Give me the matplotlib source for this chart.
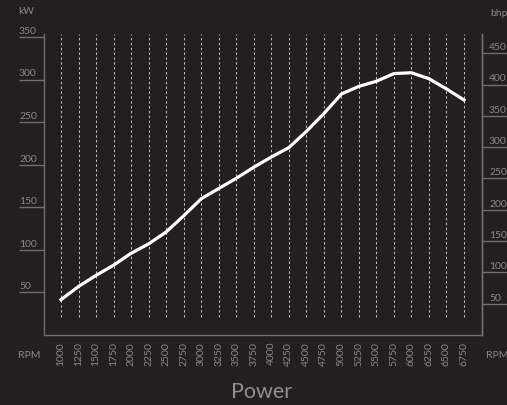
import matplotlib
matplotlib.use('Agg')
import matplotlib.pyplot as plt
import matplotlib.transforms as mtransforms

# Data
rpm = [1000, 1250, 1500, 1750, 2000, 2250, 2500, 2750, 3000, 3250, 3500, 3750,
       4000, 4250, 4500, 4750, 5000, 5250, 5500, 5750, 6000, 6250, 6500, 6750]
power_kw = [41.5, 57, 70, 82, 96, 107, 121, 140, 160, 172, 184, 197,
            209, 220, 239, 260, 283, 292, 298, 307, 308, 301, 289, 276]
kw_ticks = [50, 100, 150, 200, 250, 300, 350]
bhp_ticks = [50, 100, 150, 200, 250, 300, 350, 400, 450]
kw_to_bhp = 1.36

bg = '#231f20'
axis_col = '#6e6e6e'
text_col = '#8a8a8a'
plt.rcParams['font.family'] = ['Lato', 'DejaVu Sans']

fig = plt.figure(figsize=(5.07, 4.06), dpi=100, facecolor=bg)
ax = fig.add_axes([44 / 507, 1 - 336 / 406, 438 / 507, 301 / 406])
ax.set_facecolor(bg)

ymax = 353.5
ax.set_xlim(757, 7007)
ax.set_ylim(0, ymax)

# dashed verticals at every rpm step
ax.vlines(rpm, 21, ymax, colors='#c8c8c8', linewidth=0.7, linestyles=(0, (2.5, 2.5)))

# the power curve
ax.plot(rpm, power_kw, color='white', linewidth=2.3, solid_joinstyle='miter')

ax.spines['top'].set_visible(False)
for s in ['left', 'right', 'bottom']:
    ax.spines[s].set_color(axis_col)
    ax.spines[s].set_linewidth(1.0)

# left kW ticks
ax.set_yticks(kw_ticks)
ax.set_yticklabels([])
ax.tick_params(axis='y', which='major', length=18, width=1.0, color=axis_col, direction='out')
ax.set_xticks([])

# right bhp ticks
ax2 = ax.twinx()
ax2.set_ylim(0, ymax * kw_to_bhp)
ax2.set_yticks(bhp_ticks)
ax2.set_yticklabels([])
ax2.tick_params(axis='y', length=18, width=1.0, color=axis_col, direction='out')
for s in ['top', 'left', 'bottom']:
    ax2.spines[s].set_visible(False)
ax2.spines['right'].set_color(axis_col)
ax2.spines['right'].set_linewidth(1.0)

# tick labels drawn above the tick lines
lt = mtransforms.blended_transform_factory(fig.transFigure, ax.transData)
for v in kw_ticks:
    ax.text(19 / 507, v + 2.5, str(v), transform=lt, ha='left', va='bottom',
            fontsize=7.5, color=text_col)
rt = mtransforms.blended_transform_factory(fig.transFigure, ax2.transData)
for v in bhp_ticks:
    ax2.text(489 / 507, v + 3.4, str(v), transform=rt, ha='left', va='bottom',
             fontsize=7.5, color=text_col)

# rotated rpm labels
bt = mtransforms.blended_transform_factory(ax.transData, fig.transFigure)
for r in rpm:
    ax.text(r, 1 - 342 / 406, str(r), transform=bt, rotation=90, ha='center', va='top',
            fontsize=7.5, color=text_col)

fig.text(18 / 507, 1 - 12 / 406, 'kW', ha='left', va='center', fontsize=7.5, color=text_col)
fig.text(490 / 507, 1 - 13 / 406, 'bhp', ha='left', va='center', fontsize=7.5, color=text_col)
fig.text(18 / 507, 1 - 356 / 406, 'RPM', ha='left', va='center', fontsize=7.5, color=text_col)
fig.text(486 / 507, 1 - 356 / 406, 'RPM', ha='left', va='center', fontsize=7.5, color=text_col)
fig.text(262 / 507, 1 - 392 / 406, 'Power', ha='center', va='center', fontsize=15.5,
         color='#909090')

fig.savefig('out.png', dpi=100, facecolor=bg)
